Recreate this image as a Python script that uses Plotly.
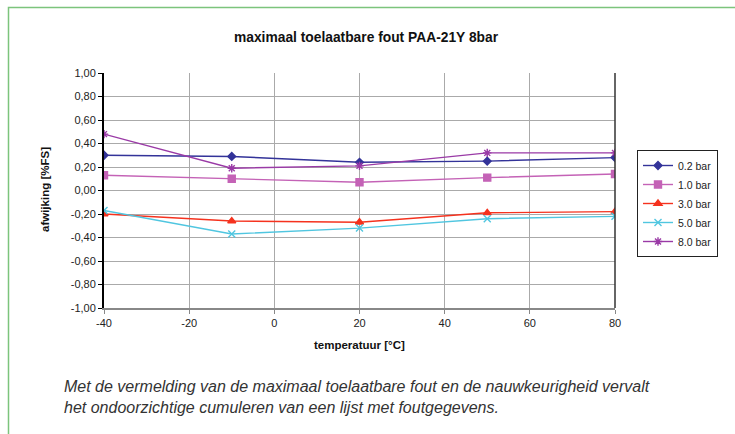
import plotly.graph_objects as go

temperature = [-40, -10, 20, 50, 80]
series_names = ["0.2 bar", "1.0 bar", "3.0 bar", "5.0 bar", "8.0 bar"]
bar_02 = [0.30, 0.29, 0.24, 0.25, 0.28]
bar_10 = [0.13, 0.10, 0.07, 0.11, 0.14]
bar_30 = [-0.20, -0.26, -0.27, -0.19, -0.18]
bar_50 = [-0.17, -0.37, -0.32, -0.24, -0.22]
bar_80 = [0.48, 0.19, 0.21, 0.32, 0.32]

y_tickvals = [1.0, 0.8, 0.6, 0.4, 0.2, 0.0, -0.2, -0.4, -0.6, -0.8, -1.0]
y_ticktext = ["1,00", "0,80", "0,60", "0,40", "0,20", "0,00",
              "-0,20", "-0,40", "-0,60", "-0,80", "-1,00"]
x_tickvals = [-40, -20, 0, 20, 40, 60, 80]
x_ticktext = ["-40", "-20", "0", "20", "40", "60", "80"]

title_text = "maximaal toelaatbare fout PAA-21Y 8bar"
x_title = "temperatuur [°C]"
y_title = "afwijking [%FS]"
caption_1 = "Met de vermelding van de maximaal toelaatbare fout en de nauwkeurigheid vervalt"
caption_2 = "het ondoorzichtige cumuleren van een lijst met foutgegevens."

styles = [
    dict(color="#333399", symbol="diamond", size=6),
    dict(color="#c462b6", symbol="square", size=7),
    dict(color="#f5321e", symbol="triangle-up", size=7),
    dict(color="#50c6e0", symbol="x-thin-open", size=7),
    dict(color="#9a3aa6", symbol="asterisk-open", size=7),
]
values = [bar_02, bar_10, bar_30, bar_50, bar_80]

fig = go.Figure()
for name, vals, st in zip(series_names, values, styles):
    fig.add_trace(go.Scatter(
        x=temperature, y=vals, name=name, mode="lines+markers",
        line=dict(color=st["color"], width=1.4),
        marker=dict(symbol=st["symbol"], size=st["size"], color=st["color"],
                    line=dict(color=st["color"], width=1.4)),
    ))

font = "Liberation Sans, Arial, sans-serif"
L, R, T, B = 104, 120, 73, 126
W, H = 735, 434
pw, ph = W - L - R, H - T - B

def px_x(x):
    return (x - L) / pw

def px_y(y):
    return 1 - (y - T) / ph

fig.update_layout(
    width=W, height=H,
    margin=dict(l=L, r=R, t=T, b=B, pad=0),
    paper_bgcolor="white", plot_bgcolor="white",
    font=dict(family=font, size=11, color="#222222"),
    showlegend=True,
    legend=dict(
        x=px_x(637), y=px_y(150), xanchor="left", yanchor="top",
        bordercolor="#222222", borderwidth=1, bgcolor="white",
        font=dict(size=10.5, family=font, color="#222222"),
        tracegroupgap=0, itemwidth=30,
    ),
    xaxis=dict(
        range=[-40, 80], tickvals=x_tickvals, ticktext=x_ticktext, showgrid=True,
        gridcolor="#aaaaaa", gridwidth=1, zeroline=False,
        showline=True, linecolor="#888888", linewidth=1.5,
        ticks="outside", ticklen=4, tickcolor="#888888",
        tickfont=dict(size=11, family=font, color="#222222"),
    ),
    yaxis=dict(
        range=[-1, 1], tickvals=y_tickvals, ticktext=y_ticktext,
        showgrid=True, gridcolor="#aaaaaa", gridwidth=1, zeroline=False,
        showline=True, linecolor="#000000", linewidth=2,
        ticks="outside", ticklen=4, tickcolor="#000000",
        tickfont=dict(size=11, family=font, color="#222222"),
    ),
    shapes=[
        dict(type="rect", xref="paper", yref="paper",
             x0=px_x(8.5), x1=px_x(760), y0=px_y(460), y1=px_y(7.5),
             line=dict(color="#7cc47c", width=1.5), fillcolor="rgba(0,0,0,0)",
             layer="below"),
        dict(type="line", xref="paper", yref="paper", x0=1, x1=1, y0=0, y1=1,
             line=dict(color="#333333", width=1.5)),
    ],
    annotations=[
        dict(text="<b>" + title_text + "</b>", xref="paper", yref="paper",
             x=px_x(366), y=px_y(37), xanchor="center", yanchor="middle",
             showarrow=False, font=dict(size=13.8, family=font, color="#111111")),
        dict(text="<b>" + x_title + "</b>", xref="paper", yref="paper",
             x=px_x(359), y=px_y(345), xanchor="center", yanchor="middle",
             showarrow=False, font=dict(size=11.5, family=font, color="#111111")),
        dict(text="<b>" + y_title + "</b>", xref="paper", yref="paper",
             x=px_x(45), y=px_y(190), xanchor="center", yanchor="middle",
             textangle=-90, showarrow=False,
             font=dict(size=11.5, family=font, color="#111111")),
        dict(text="<i>" + caption_1 + "</i>", xref="paper", yref="paper",
             x=px_x(62), y=px_y(386), xanchor="left", yanchor="middle",
             showarrow=False, font=dict(size=16, family=font, color="#333333")),
        dict(text="<i>" + caption_2 + "</i>", xref="paper", yref="paper",
             x=px_x(62), y=px_y(407), xanchor="left", yanchor="middle",
             showarrow=False, font=dict(size=16, family=font, color="#333333")),
    ],
)

fig.write_html("out.html", config={"displayModeBar": False},
               post_script="document.body.style.margin='0';")
